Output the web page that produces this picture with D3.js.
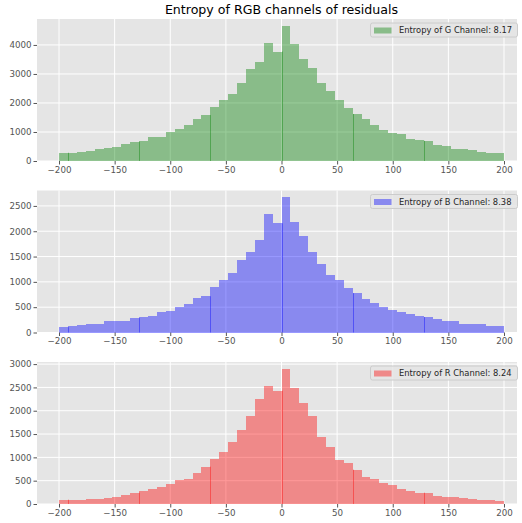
<!DOCTYPE html>
<html>
<head>
<meta charset="utf-8">
<script src="https://cdn.jsdelivr.net/npm/d3@7"></script>
<style>
  body { margin: 0; background: #fff; }
  svg { font-family: "DejaVu Sans", sans-serif; }
</style>
</head>
<body>
<svg width="522" height="523"></svg>
<script>
(() => {

    // histogram bin edges (width 8)
    var binEdges = [-200, -192, -184, -176, -168, -160, -152, -144, -136, -128, -120, -112, -104, -96, -88, -80,
        -72, -64, -56, -48, -40, -32, -24, -16, -8, 0, 8, 16, 24, 32, 40, 48, 56, 64, 72, 80, 88, 96, 104,
        112, 120, 128, 136, 144, 152, 160, 168, 176, 184, 192, 200];

    // counts per bin
    var gCounts = [285, 285, 320, 353, 420, 455, 490, 593, 660, 695, 810, 843, 1003, 1117, 1242, 1459, 1584,
        1857, 2097, 2302, 2678, 3157, 3396, 4080, 3772,
        4661, 4046, 3499, 3191, 2678, 2405, 2097, 1823, 1618, 1447, 1242, 1071, 969, 934, 764, 729, 695,
        558, 524, 422, 422, 387, 319, 285, 285];

    var bCounts = [105, 125, 145, 164, 164, 224, 224, 224, 283, 303, 322, 401, 421, 500, 559, 678, 717,
        895, 1033, 1171, 1428, 1586, 1822, 2336, 2158,
        2671, 2178, 1901, 1586, 1349, 1132, 1033, 875, 776, 658, 579, 500, 441, 401, 362, 322, 303,
        263, 224, 224, 164, 164, 164, 125, 125];

    var rCounts = [93, 93, 93, 114, 114, 136, 157, 200, 243, 286, 329, 371, 436, 521, 543, 671, 800,
        971, 1121, 1336, 1593, 1893, 2257, 2536, 2429,
        2900, 2493, 2171, 1893, 1443, 1229, 950, 886, 736, 586, 543, 457, 414, 329, 286, 243, 243,
        179, 157, 157, 136, 114, 93, 93, 71];

    var xTicks = [-200, -150, -100, -50, 0, 50, 100, 150, 200];
    var gTicks = [0, 1000, 2000, 3000, 4000];
    var bTicks = [0, 500, 1000, 1500, 2000, 2500];
    var rTicks = [0, 500, 1000, 1500, 2000, 2500, 3000];

    // darker seams where neighbouring bars overlap by a pixel
    var seams = [-192, -128, -64, 0, 64, 128];

    var titleText = "Entropy of RGB channels of residuals";

    var panels = [
        { label: "Entropy of G Channel: 8.17", color: "rgb(0,128,0)", counts: gCounts, ticks: gTicks, top: 19 },
        { label: "Entropy of B Channel: 8.38", color: "rgb(0,0,255)", counts: bCounts, ticks: bTicks, top: 190.5 },
        { label: "Entropy of R Channel: 8.24", color: "rgb(255,0,0)", counts: rCounts, ticks: rTicks, top: 362 }
    ];

    var left = 37, right = 517, plotH = 142;

    var svg = d3.select("svg");

    svg.append("text")
        .attr("x", 281.5)
        .attr("y", 13.5)
        .attr("text-anchor", "middle")
        .attr("font-size", "12.6px")
        .attr("fill", "#000")
        .text(titleText);

    var x = d3.scaleLinear().domain([-219.8, 211.7]).range([left, right]);

    panels.forEach(function (p) {
        var bins = p.counts.map(function (c, i) {
            return { x0: binEdges[i], x1: binEdges[i + 1], n: c };
        });
        var ymax = d3.max(p.counts) * 1.05;
        var y = d3.scaleLinear().domain([0, ymax]).range([p.top + plotH, p.top]);

        var g = svg.append("g");

        g.append("rect")
            .attr("x", left).attr("y", p.top)
            .attr("width", right - left).attr("height", plotH)
            .attr("fill", "#e5e5e5");

        // grid
        g.selectAll(".gx").data(xTicks).enter().append("line")
            .attr("x1", function (d) { return x(d); }).attr("x2", function (d) { return x(d); })
            .attr("y1", p.top).attr("y2", p.top + plotH)
            .attr("stroke", "#fff").attr("stroke-width", 1);
        g.selectAll(".gy").data(p.ticks).enter().append("line")
            .attr("x1", left).attr("x2", right)
            .attr("y1", function (d) { return y(d); }).attr("y2", function (d) { return y(d); })
            .attr("stroke", "#fff").attr("stroke-width", 1);

        // bars
        g.selectAll(".bar").data(bins).enter().append("rect")
            .attr("x", function (d) { return x(d.x0); })
            .attr("width", function (d) { return x(d.x1) - x(d.x0); })
            .attr("y", function (d) { return y(d.n); })
            .attr("height", function (d) { return y(0) - y(d.n); })
            .attr("fill", p.color)
            .attr("fill-opacity", 0.4)
            .attr("shape-rendering", "crispEdges");

        g.selectAll(".seam").data(seams).enter().append("line")
            .attr("x1", function (d) { return Math.round(x(d)) + 0.5; })
            .attr("x2", function (d) { return Math.round(x(d)) + 0.5; })
            .attr("y1", y(0))
            .attr("y2", function (d) {
                var i = binEdges.indexOf(d);
                return y(Math.min(p.counts[i - 1], p.counts[i]));
            })
            .attr("stroke", p.color)
            .attr("stroke-opacity", 0.4)
            .attr("stroke-width", 1);

        // x axis
        var xa = g.append("g").attr("transform", "translate(0," + (p.top + plotH) + ")")
            .call(d3.axisBottom(x).tickValues(xTicks).tickSize(3.5).tickPadding(2)
                .tickFormat(function (d) { return d < 0 ? "\u2212" + Math.abs(d) : d; }));
        xa.select(".domain").remove();
        xa.selectAll("line").attr("stroke", "#555");
        xa.selectAll("text").attr("fill", "#555").attr("font-size", "8.7px")
            .attr("font-family", "DejaVu Sans");

        // y axis
        var ya = g.append("g").attr("transform", "translate(" + left + ",0)")
            .call(d3.axisLeft(y).tickValues(p.ticks).tickSize(3.5).tickPadding(2)
                .tickFormat(d3.format("d")));
        ya.select(".domain").remove();
        ya.selectAll("line").attr("stroke", "#555");
        ya.selectAll("text").attr("fill", "#555").attr("font-size", "8.7px")
            .attr("font-family", "DejaVu Sans");

        // legend
        var lg = g.append("g").attr("transform", "translate(370.5," + (p.top + 4) + ")");
        lg.append("rect")
            .attr("width", 147).attr("height", 14).attr("rx", 2)
            .attr("fill", "#e5e5e5").attr("fill-opacity", 0.8)
            .attr("stroke", "#cccccc").attr("stroke-width", 1);
        lg.append("rect")
            .attr("x", 3.5).attr("y", 4.5).attr("width", 17.5).attr("height", 6)
            .attr("fill", p.color).attr("fill-opacity", 0.4);
        lg.append("text")
            .attr("x", 28.5).attr("y", 10.4)
            .attr("font-size", "8.35px")
            .attr("fill", "#262626")
            .text(p.label);
    });

})();
</script>
</body>
</html>
